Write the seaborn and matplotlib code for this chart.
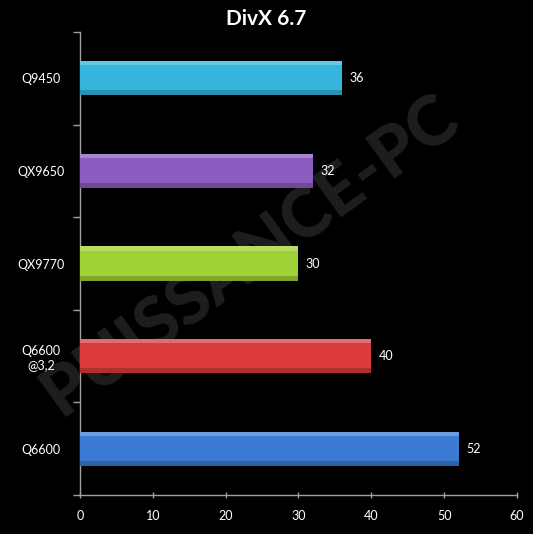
import matplotlib
matplotlib.use("Agg")
import matplotlib.pyplot as plt
import seaborn as sns
import pandas as pd
import numpy as np

categories = ["Q9450", "QX9650", "QX9770", "Q6600\n@3,2", "Q6600"]
values = [36, 32, 30, 40, 52]
colors = ["#35b6dc", "#8c5cc0", "#9fd234", "#dc3b3b", "#3b7bd3"]
xticks = [0, 10, 20, 30, 40, 50, 60]
title = "DivX 6.7"

sns.set_theme(style="dark")
plt.rcParams['font.family'] = ['Lato', 'DejaVu Sans']

df = pd.DataFrame({"cpu": categories, "val": values})

fig = plt.figure(figsize=(5.33, 5.34), dpi=100, facecolor="black")

# watermark (behind everything)
fig.text(0.47, 0.52, "PUISSANCE-PC", fontsize=50, fontweight="black", color="#1e1e1e",
         rotation=36, ha="center", va="center", zorder=0)

ax = fig.add_axes([0.150, 0.073, 0.820, 0.867])
ax.set_facecolor("none")
ax.set_zorder(2)

sns.barplot(data=df, y="cpu", x="val", hue="cpu", palette=colors, orient="h",
            width=0.37, ax=ax, legend=False, saturation=1, edgecolor="none", zorder=3)

# subtle 3D-like shading on bars
for p in list(ax.patches):
    x0, y0 = p.get_x(), p.get_y()
    w, h = p.get_width(), p.get_height()
    ax.add_patch(plt.Rectangle((x0, y0), w, h * 0.12, color="white", alpha=0.25, lw=0, zorder=4))
    ax.add_patch(plt.Rectangle((x0, y0 + h * 0.85), w, h * 0.15, color="black", alpha=0.2, lw=0, zorder=4))

for i, v in enumerate(values):
    ax.text(v + 1.0, i, str(v), color="white", va="center", ha="left", fontsize=9, zorder=5)

ax.set_xlim(0, 60)
ax.set_ylim(4.5, -0.5)
ax.set_xticks(xticks)
ax.set_xticklabels([str(t) for t in xticks], color="white", fontsize=9)
ax.set_yticks(range(len(categories)))
ax.set_yticklabels(categories, color="white", fontsize=9, ha="center")
ax.tick_params(axis="y", which="major", length=0, pad=28)
ax.set_yticks(np.arange(-0.5, len(categories), 1.0), minor=True)
ax.tick_params(axis="y", which="minor", length=5, color="#a0a0a0", width=1, direction="out", left=True)
ax.tick_params(axis="x", length=5, color="#a0a0a0", width=1, direction="inout", bottom=True, pad=8)
ax.set_xlabel("")
ax.set_ylabel("")
ax.grid(False)
for s in ["top", "right"]:
    ax.spines[s].set_visible(False)
for s in ["left", "bottom"]:
    ax.spines[s].set_visible(True)
    ax.spines[s].set_color("#a0a0a0")
    ax.spines[s].set_linewidth(1)

fig.text(0.5, 0.965, title, color="white", fontsize=15, fontweight="bold", ha="center", va="center", zorder=5)

fig.savefig("out.png", dpi=100, facecolor="black")
